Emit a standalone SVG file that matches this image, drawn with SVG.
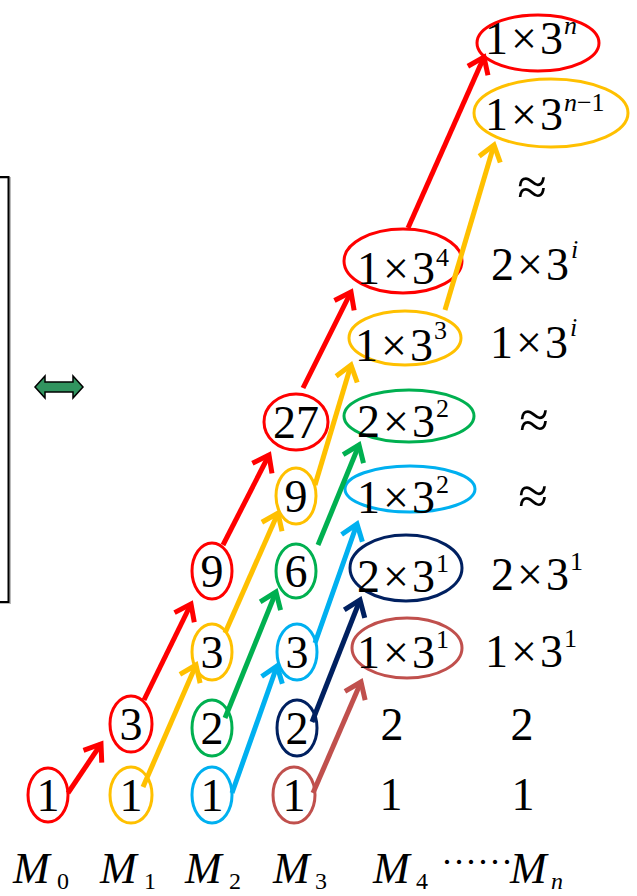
<svg xmlns="http://www.w3.org/2000/svg" width="637" height="896" viewBox="0 0 637 896">
<style>
text{font-family:"Liberation Serif","Times New Roman",serif;fill:#000}
.t{font-size:46px}
.c{text-anchor:middle}
.sup{font-size:26px}
.ap{font-size:54px}
.m{font-size:44px;font-style:italic}
.sub{font-size:24px}
.i{font-style:italic}
ellipse{fill:none;stroke-width:3}
.conn line{stroke-width:5;fill:none}
.r{stroke:#FF0000}.y{stroke:#FFC000}.g{stroke:#00B050}.b{stroke:#00B0F0}.n{stroke:#002060}.br{stroke:#C0504D}
</style>
<defs>
<marker id="aR" markerUnits="userSpaceOnUse" orient="auto" refX="0" refY="0" markerWidth="40" markerHeight="40" viewBox="-20 -20 40 40" overflow="visible"><path d="M-15,-11 L0,0 L-15,11" fill="none" stroke="#FF0000" stroke-width="5"/></marker>
<marker id="aY" markerUnits="userSpaceOnUse" orient="auto" refX="0" refY="0" markerWidth="40" markerHeight="40" viewBox="-20 -20 40 40" overflow="visible"><path d="M-15,-11 L0,0 L-15,11" fill="none" stroke="#FFC000" stroke-width="5"/></marker>
<marker id="aG" markerUnits="userSpaceOnUse" orient="auto" refX="0" refY="0" markerWidth="40" markerHeight="40" viewBox="-20 -20 40 40" overflow="visible"><path d="M-15,-11 L0,0 L-15,11" fill="none" stroke="#00B050" stroke-width="5"/></marker>
<marker id="aB" markerUnits="userSpaceOnUse" orient="auto" refX="0" refY="0" markerWidth="40" markerHeight="40" viewBox="-20 -20 40 40" overflow="visible"><path d="M-15,-11 L0,0 L-15,11" fill="none" stroke="#00B0F0" stroke-width="5"/></marker>
<marker id="aN" markerUnits="userSpaceOnUse" orient="auto" refX="0" refY="0" markerWidth="40" markerHeight="40" viewBox="-20 -20 40 40" overflow="visible"><path d="M-15,-11 L0,0 L-15,11" fill="none" stroke="#002060" stroke-width="5"/></marker>
<marker id="aBr" markerUnits="userSpaceOnUse" orient="auto" refX="0" refY="0" markerWidth="40" markerHeight="40" viewBox="-20 -20 40 40" overflow="visible"><path d="M-15,-11 L0,0 L-15,11" fill="none" stroke="#C0504D" stroke-width="5"/></marker>
</defs>

<g id="bracket" fill="none">
<path d="M0,178 H10 V603 H0" stroke="#bbbbbb" stroke-width="2"/>
<path d="M0,177 H8.5 V602 H0" stroke="#000" stroke-width="2"/>
</g>
<g id="double-arrow">
<polygon points="35,387 45,376 45,382 73,382 73,376 83,387 73,398 73,392 45,392 45,398" fill="#31945F" stroke="#000" stroke-width="1.5" stroke-linejoin="miter"/>
</g>

<!-- M0 -->
<g id="m0-1"><ellipse class="r" cx="48" cy="795" rx="20" ry="27"/><text class="t c" x="48" y="811">1</text></g>
<!-- M1 -->
<g id="m1-1"><ellipse class="y" cx="131" cy="795" rx="21" ry="28"/><text class="t c" x="131" y="811">1</text></g>
<g id="m1-3"><ellipse class="r" cx="131" cy="724" rx="21" ry="28"/><text class="t c" x="131" y="740">3</text></g>
<!-- M2 -->
<g id="m2-1"><ellipse class="b" cx="212" cy="795" rx="20" ry="28"/><text class="t c" x="212" y="811">1</text></g>
<g id="m2-2"><ellipse class="g" cx="212" cy="728" rx="20" ry="28"/><text class="t c" x="212" y="744">2</text></g>
<g id="m2-3"><ellipse class="y" cx="212" cy="652" rx="20" ry="28"/><text class="t c" x="212" y="668">3</text></g>
<g id="m2-9"><ellipse class="r" cx="212" cy="571" rx="20" ry="28"/><text class="t c" x="212" y="587">9</text></g>
<!-- M3 -->
<g id="m3-1"><ellipse class="br" cx="294" cy="795" rx="21" ry="28"/><text class="t c" x="294" y="811">1</text></g>
<g id="m3-2"><ellipse class="n" cx="297" cy="728" rx="20" ry="28"/><text class="t c" x="297" y="744">2</text></g>
<g id="m3-3"><ellipse class="b" cx="297" cy="652" rx="20" ry="28"/><text class="t c" x="297" y="668">3</text></g>
<g id="m3-6"><ellipse class="g" cx="296" cy="571" rx="20" ry="27"/><text class="t c" x="296" y="587">6</text></g>
<g id="m3-9"><ellipse class="y" cx="296" cy="496" rx="20" ry="28"/><text class="t c" x="296" y="512">9</text></g>
<g id="m3-27"><ellipse class="r" cx="296" cy="422" rx="32" ry="28"/><text class="t c" x="296" y="438">27</text></g>
<!-- M4 -->
<g id="m4-1"><text class="t c" x="391" y="810">1</text></g>
<g id="m4-2"><text class="t c" x="392" y="740">2</text></g>
<g id="m4-1x3-1"><ellipse class="br" cx="407" cy="648" rx="55" ry="30"/><text class="t" x="357" y="668">1<tspan dx="3">×</tspan><tspan dx="3">3</tspan><tspan class="sup" dx="1" dy="-20">1</tspan></text></g>
<g id="m4-2x3-1"><ellipse class="n" cx="406" cy="568" rx="56" ry="33"/><text class="t" x="357" y="592">2<tspan dx="3">×</tspan><tspan dx="3">3</tspan><tspan class="sup" dx="1" dy="-20">1</tspan></text></g>
<g id="m4-1x3-2"><ellipse class="b" cx="410" cy="489" rx="65" ry="23"/><text class="t" x="357" y="513">1<tspan dx="3">×</tspan><tspan dx="3">3</tspan><tspan class="sup" dx="1" dy="-20">2</tspan></text></g>
<g id="m4-2x3-2"><ellipse class="g" cx="409" cy="416" rx="65" ry="26"/><text class="t" x="357" y="437">2<tspan dx="3">×</tspan><tspan dx="3">3</tspan><tspan class="sup" dx="1" dy="-20">2</tspan></text></g>
<g id="m4-1x3-3"><ellipse class="y" cx="405" cy="338" rx="56" ry="27"/><text class="t" x="355" y="361">1<tspan dx="3">×</tspan><tspan dx="3">3</tspan><tspan class="sup" dx="1" dy="-22">3</tspan></text></g>
<g id="m4-1x3-4"><ellipse class="r" cx="403" cy="261" rx="59" ry="32"/><text class="t" x="357" y="284">1<tspan dx="3">×</tspan><tspan dx="3">3</tspan><tspan class="sup" dx="1" dy="-18">4</tspan></text></g>
<!-- Mn -->
<g id="mn-1"><text class="t c" x="523" y="810">1</text></g>
<g id="mn-2"><text class="t c" x="522" y="740">2</text></g>
<g id="mn-1x3-1"><text class="t" x="485" y="667">1<tspan dx="3">×</tspan><tspan dx="3">3</tspan><tspan class="sup" dx="1" dy="-20">1</tspan></text></g>
<g id="mn-2x3-1"><text class="t" x="491" y="590">2<tspan dx="3">×</tspan><tspan dx="3">3</tspan><tspan class="sup" dx="1" dy="-20">1</tspan></text></g>
<g id="mn-approx-3"><text class="ap c" x="533" y="514">≈</text></g>
<g id="mn-approx-2"><text class="ap c" x="534" y="438">≈</text></g>
<g id="mn-1x3-i"><text class="t" x="490" y="358">1<tspan dx="3">×</tspan><tspan dx="3">3</tspan><tspan class="sup i" dx="2" dy="-22">i</tspan></text></g>
<g id="mn-2x3-i"><text class="t" x="491" y="280">2<tspan dx="3">×</tspan><tspan dx="3">3</tspan><tspan class="sup i" dx="2" dy="-22">i</tspan></text></g>
<g id="mn-approx-1"><text class="ap c" x="532" y="205">≈</text></g>
<g id="mn-1x3-n-1"><ellipse class="y" cx="551" cy="113" rx="77" ry="34"/><text class="t" x="485" y="130">1<tspan dx="3">×</tspan><tspan dx="3">3</tspan><tspan class="sup" dx="1" dy="-19"><tspan class="i">n</tspan>−1</tspan></text></g>
<g id="mn-1x3-n"><ellipse class="r" cx="538" cy="43" rx="61" ry="28"/><text class="t" x="485" y="54">1<tspan dx="3">×</tspan><tspan dx="3">3</tspan><tspan class="sup i" dx="1" dy="-20">n</tspan></text></g>

<g id="labels">
<text class="m" x="13" y="883">M</text><text class="sub" x="57" y="889">0</text>
<text class="m" x="100" y="883">M</text><text class="sub" x="144" y="889">1</text>
<text class="m" x="185" y="883">M</text><text class="sub" x="229" y="889">2</text>
<text class="m" x="273" y="883">M</text><text class="sub" x="315" y="889">3</text>
<text class="m" x="373" y="883">M</text><text class="sub" x="416" y="889">4</text>
<text x="441" y="874" font-size="36">······</text>
<text class="m" x="510" y="883">M</text><text class="sub i" x="551" y="889">n</text>
</g>

<g id="connectors" class="conn">
<line class="r" x1="68" y1="793" x2="101" y2="744" marker-end="url(#aR)"/>
<line class="r" x1="144" y1="700" x2="191" y2="604" marker-end="url(#aR)"/>
<line class="r" x1="223" y1="545" x2="269" y2="455" marker-end="url(#aR)"/>
<line class="r" x1="303" y1="388" x2="351" y2="292" marker-end="url(#aR)"/>
<line class="r" x1="408" y1="228" x2="484" y2="57" marker-end="url(#aR)"/>
<line class="y" x1="143" y1="787" x2="196" y2="665" marker-end="url(#aY)"/>
<line class="y" x1="225" y1="633" x2="278" y2="513" marker-end="url(#aY)"/>
<line class="y" x1="315" y1="485" x2="351" y2="365" marker-end="url(#aY)"/>
<line class="y" x1="445" y1="310" x2="494" y2="145" marker-end="url(#aY)"/>
<line class="g" x1="225" y1="718" x2="276" y2="592" marker-end="url(#aG)"/>
<line class="g" x1="318" y1="545" x2="359" y2="445" marker-end="url(#aG)"/>
<line class="b" x1="232" y1="793" x2="277" y2="666" marker-end="url(#aB)"/>
<line class="b" x1="315" y1="643" x2="357" y2="524" marker-end="url(#aB)"/>
<line class="n" x1="312" y1="722" x2="360" y2="600" marker-end="url(#aN)"/>
<line class="br" x1="313" y1="793" x2="361" y2="682" marker-end="url(#aBr)"/>
</g>
</svg>
